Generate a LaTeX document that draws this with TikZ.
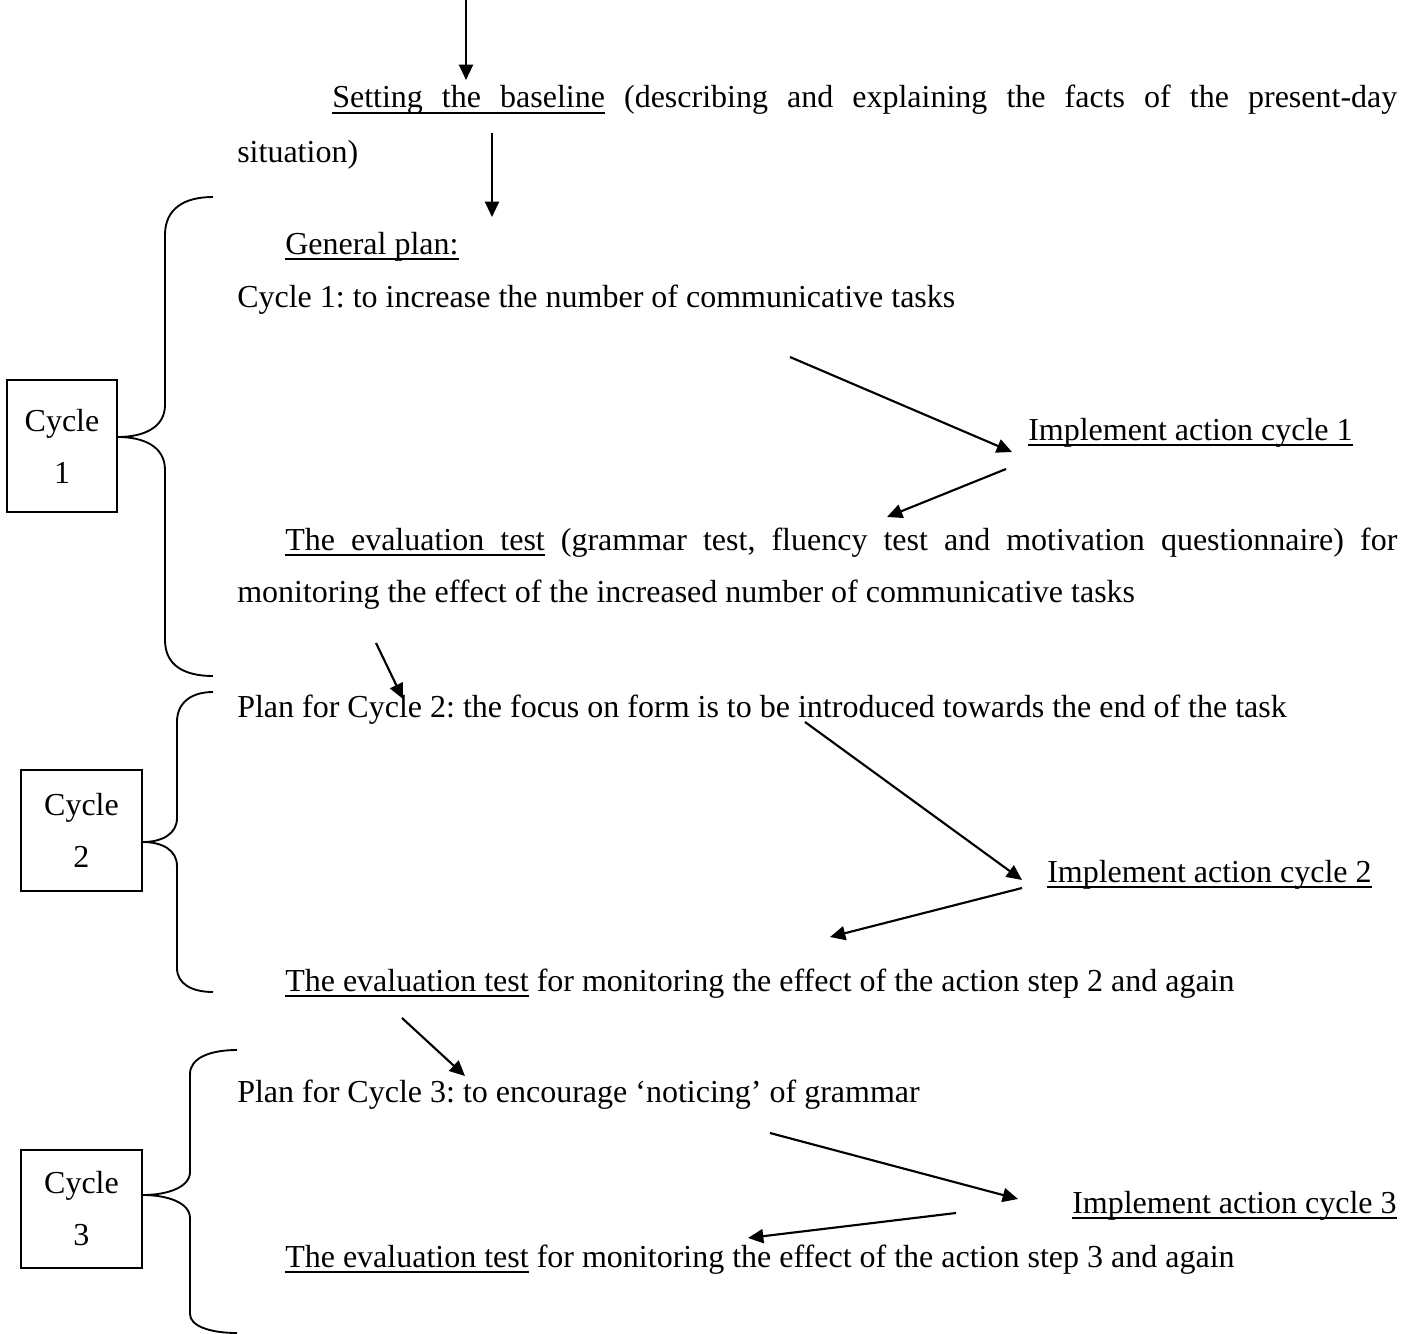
\documentclass[tikz,border=0pt]{standalone}
\usepackage{fontspec}
\setmainfont{Liberation Serif}
\usetikzlibrary{arrows.meta}
\newlength\natw
\newcommand\myul[1]{\setbox0\hbox{#1}\rlap{\rule[-4.5pt]{\wd0}{1.45pt}}\box0\relax}
\newcommand\justline[3]{\settowidth\natw{#3}\spaceskip=\dimexpr\fontdimen2\font+(#1-\natw)/#2\relax #3}
\begin{document}
\frenchspacing
\begin{tikzpicture}[x=0.75pt,y=-0.75pt,
  txt/.style={inner sep=0pt, anchor=base west, font=\fontsize{24}{28}\selectfont},
  arr/.style={line width=1.6pt, -{Triangle[length=11.5pt,width=10.5pt]}},
  bracepath/.style={line width=1.4pt},
  cbox/.style={draw, line width=1.1pt, inner sep=0pt, align=center, font=\fontsize{24}{39}\selectfont}]
\useasboundingbox (0,0) rectangle (1411,1334);

% text lines
\node[txt] (base) at (332,108) {\justline{798.75pt}{10}{\myul{Setting the baseline} (describing and explaining the facts of the present-day}};
\node[txt] (sit) at (237,163) {situation)};
\node[txt] (gp) at (285,254) {\myul{General plan:}};
\node[txt] (c1p) at (237,307) {Cycle 1: to increase the number of communicative tasks};
\node[txt] (ia1) at (1028,440) {\myul{Implement action cycle 1}};
\node[txt] (ev1) at (285,550) {\justline{834pt}{10}{\myul{The evaluation test} (grammar test, fluency test and motivation questionnaire) for}};
\node[txt] (mon) at (237,602) {monitoring the effect of the increased number of communicative tasks};
\node[txt] (p2) at (237,717) {Plan for Cycle 2: the focus on form is to be introduced towards the end of the task};
\node[txt] (ia2) at (1047,882) {\myul{Implement action cycle 2}};
\node[txt] (ev2) at (285,991) {\myul{The evaluation test} for monitoring the effect of the action step 2 and again};
\node[txt] (p3) at (237,1102) {Plan for Cycle 3: to encourage ‘noticing’ of grammar};
\node[txt] (ia3) at (1072,1213) {\myul{Implement action cycle 3}};
\node[txt] (ev3) at (285,1267) {\myul{The evaluation test} for monitoring the effect of the action step 3 and again};

% cycle boxes
\node[cbox, minimum width=82.5pt, minimum height=99pt] (cy1) at (62,446) {Cycle\\1};
\node[cbox, minimum width=90.75pt, minimum height=90.75pt] (cy2) at (81.5,830.5) {Cycle\\2};
\node[cbox, minimum width=90.75pt, minimum height=88.5pt] (cy3) at (81.5,1209) {Cycle\\3};

% arrow end points
\coordinate (a1s) at (466,0);   \coordinate (a1e) at (466,80);
\coordinate (a2s) at (492,133); \coordinate (a2e) at (492,217);
\coordinate (a3s) at (790,357); \coordinate (a3e) at (1012,452);
\coordinate (a4s) at (1006,469); \coordinate (a4e) at (887,517);
\coordinate (a5s) at (376,643); \coordinate (a5e) at (403,699);
\coordinate (a6s) at (805,722); \coordinate (a6e) at (1022,880);
\coordinate (a7s) at (1022,888); \coordinate (a7e) at (830,937);
\coordinate (a8s) at (402,1018); \coordinate (a8e) at (465,1076);
\coordinate (a9s) at (770,1133); \coordinate (a9e) at (1018,1199);
\coordinate (a10s) at (956,1213); \coordinate (a10e) at (748,1238);

\draw[arr] (a1s) -- (a1e);
\draw[arr] (a2s) -- (a2e);
\draw[arr] (a3s) -- (a3e);
\draw[arr] (a4s) -- (a4e);
\draw[arr] (a5s) -- (a5e);
\draw[arr] (a6s) -- (a6e);
\draw[arr] (a7s) -- (a7e);
\draw[arr] (a8s) -- (a8e);
\draw[arr] (a9s) -- (a9e);
\draw[arr] (a10s) -- (a10e);

% braces
\coordinate (b1t) at (213,197); \coordinate (b1b) at (213,676);
\draw[bracepath] (b1t) .. controls (185,197) and (165,208) .. (165,235) -- (165,405)
  .. controls (165,428) and (143,437) .. (cy1.east |- 0,437)
  .. controls (143,437) and (165,446) .. (165,470) -- (165,640)
  .. controls (165,666) and (185,676) .. (b1b);
\coordinate (b2t) at (213,692); \coordinate (b2b) at (213,992);
\draw[bracepath] (b2t) .. controls (192,692) and (177,702) .. (177,722) -- (177,818)
  .. controls (177,834) and (162,842) .. (cy2.east |- 0,842)
  .. controls (162,842) and (177,850) .. (177,866) -- (177,968)
  .. controls (177,984) and (192,992) .. (b2b);
\coordinate (b3t) at (237,1050); \coordinate (b3b) at (237,1333);
\draw[bracepath] (b3t) .. controls (210,1050) and (190,1058) .. (190,1074) -- (190,1172)
  .. controls (190,1187) and (168,1195) .. (cy3.east |- 0,1195)
  .. controls (168,1195) and (190,1203) .. (190,1218) -- (190,1314)
  .. controls (190,1326) and (210,1333) .. (b3b);
\end{tikzpicture}
\end{document}
